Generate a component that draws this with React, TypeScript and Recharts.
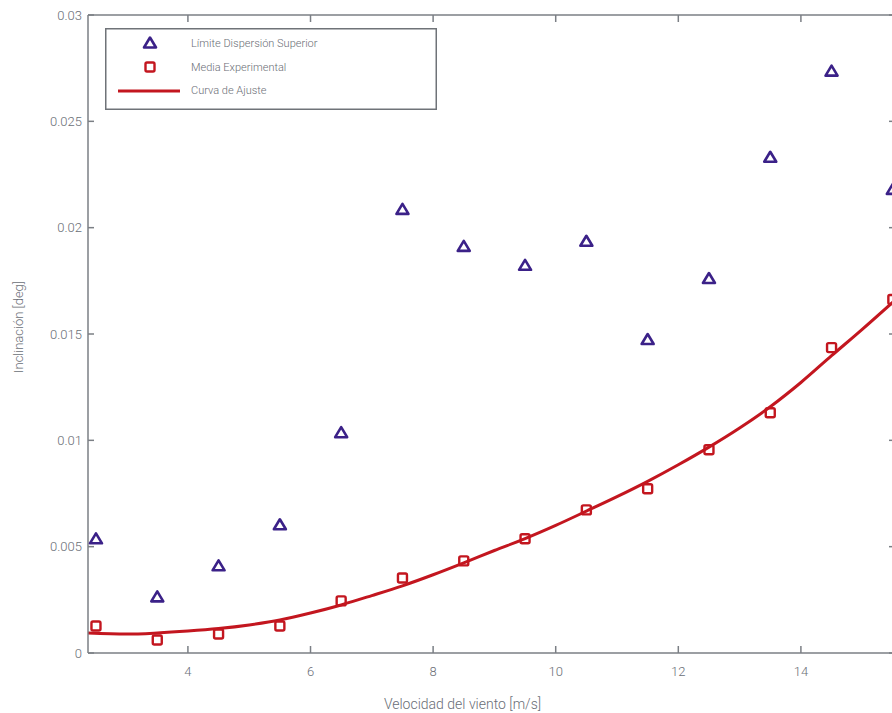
import React from "react";
import { ComposedChart, Scatter, Line, XAxis, YAxis } from "recharts";

// wind speed values where measurements were taken
const speeds = [2.5, 3.5, 4.5, 5.5, 6.5, 7.5, 8.5, 9.5, 10.5, 11.5, 12.5, 13.5, 14.5, 15.5];
const upperLimit = [
  0.00537, 0.00264, 0.0041, 0.00603, 0.01036, 0.02086, 0.01912, 0.01823, 0.01936, 0.01474,
  0.01761, 0.02331, 0.02736, 0.0218,
];
const expMean = [
  0.00127, 0.00061, 0.00089, 0.00127, 0.00245, 0.00353, 0.00433, 0.00537, 0.00673, 0.00772,
  0.00956, 0.0113, 0.01436, 0.01662,
];

// fitted curve
const fitSpeeds = [
  2.37, 3, 3.5, 4, 4.5, 5, 5.5, 6, 6.5, 7, 7.5, 8, 8.5, 9, 9.5, 10, 10.5, 11, 11.5, 12, 12.5, 13,
  13.5, 14, 14.5, 15, 15.5,
];
const fitValues = [
  0.00094, 0.00089, 0.00094, 0.00103, 0.00115, 0.00132, 0.00155, 0.00188, 0.00226, 0.0027,
  0.00316, 0.00368, 0.00424, 0.00482, 0.00538, 0.006, 0.00667, 0.00735, 0.00807, 0.00885,
  0.00968, 0.01058, 0.01158, 0.01272, 0.01398, 0.01522, 0.0165,
];

const xTicks = [4, 6, 8, 10, 12, 14];
const yTicks = [0, 0.005, 0.01, 0.015, 0.02, 0.025, 0.03];

const PURPLE = "#3b2188";
const RED = "#c3161f";
const AXIS = "#7b7f85";
const TEXT = "#6a6e76";
const FONT = "Roboto, 'Open Sans', sans-serif";

const upperData = speeds.map((x, i) => ({ x, y: upperLimit[i] }));
const meanData = speeds.map((x, i) => ({ x, y: expMean[i] }));
const fitData = fitSpeeds.map((x, i) => ({ x, y: fitValues[i] }));

function Triangle(props: any): React.JSX.Element {
  const { cx, cy } = props;
  return (
    <path
      d={`M${cx},${cy - 5.5} L${cx + 6},${cy + 4.5} L${cx - 6},${cy + 4.5} Z`}
      fill="none"
      stroke={PURPLE}
      strokeWidth={2.6}
      strokeLinejoin="round"
    />
  );
}

function Square(props: any): React.JSX.Element {
  const { cx, cy } = props;
  return (
    <rect
      x={cx - 4.5}
      y={cy - 4.5}
      width={9}
      height={9}
      rx={1.5}
      fill="none"
      stroke={RED}
      strokeWidth={2.4}
    />
  );
}

function BottomTick({ x, y, payload }: any): React.JSX.Element {
  return (
    <g>
      <line x1={x} x2={x} y1={y} y2={y - 7} stroke={AXIS} strokeWidth={1.5} />
      <text x={x} y={y + 23} textAnchor="middle" fill={TEXT} fontSize={13} fontWeight={300} fontFamily={FONT}>
        {payload.value}
      </text>
    </g>
  );
}

function TopTick({ x, y }: any): React.JSX.Element {
  return <line x1={x} x2={x} y1={y} y2={y + 7} stroke={AXIS} strokeWidth={1.5} />;
}

function LeftTick({ x, y, payload }: any): React.JSX.Element {
  return (
    <g>
      <line x1={x} x2={x + 6} y1={y} y2={y} stroke={AXIS} strokeWidth={1.5} />
      <text x={x - 6} y={y + 4.5} textAnchor="end" fill={TEXT} fontSize={13} fontWeight={300} fontFamily={FONT}>
        {payload.value}
      </text>
    </g>
  );
}

function RightTick({ x, y }: any): React.JSX.Element {
  return <line x1={x} x2={x - 6} y1={y} y2={y} stroke={AXIS} strokeWidth={1.5} />;
}

function XTitle({ viewBox }: any): React.JSX.Element {
  const { x, y, width, height } = viewBox;
  return (
    <text
      x={x + width / 2 - 29}
      y={y + height - 4}
      textAnchor="middle"
      fill={TEXT}
      fontSize={14}
      fontWeight={300}
      fontFamily={FONT}
    >
      Velocidad del viento [m/s]
    </text>
  );
}

function YTitle({ viewBox }: any): React.JSX.Element {
  const { y, height } = viewBox;
  const cy = y + height / 2 - 7;
  return (
    <text
      x={18}
      y={cy}
      transform={`rotate(-90, 18, ${cy})`}
      textAnchor="middle"
      dominantBaseline="central"
      fill={TEXT}
      fontSize={13}
      fontWeight={300}
      fontFamily={FONT}
    >
      Inclinación [deg]
    </text>
  );
}

function ChartLegend(): React.JSX.Element {
  const label = { fontSize: 11, fill: TEXT, fontFamily: FONT, fontWeight: 300 } as const;
  return (
    <svg width={332} height={82} style={{ display: "block" }}>
      <rect x={0.75} y={0.75} width={330.5} height={80.5} fill="#fff" stroke="#6f7378" strokeWidth={1.5} />
      <Triangle cx={45} cy={15} />
      <Square cx={45} cy={39} />
      <line x1={13} x2={75} y1={63} y2={63} stroke={RED} strokeWidth={3} />
      <text x={86} y={19} {...label}>Límite Dispersión Superior</text>
      <text x={86} y={43} {...label}>Media Experimental</text>
      <text x={86} y={66} {...label}>Curva de Ajuste</text>
    </svg>
  );
}

export default function App(): React.JSX.Element {
  return (
    <div style={{ width: 892, height: 713, overflow: "hidden", position: "relative", background: "#fff" }}>
      <style>{`body{margin:0}`}</style>
      <ComposedChart
        width={896}
        height={713}
        margin={{ top: 14, right: 0, bottom: 0, left: 0 }}
        style={{ fontFamily: FONT }}
      >
        <XAxis
          dataKey="x"
          type="number"
          domain={[2.37, 15.535]}
          ticks={xTicks}
          allowDataOverflow
          height={60}
          axisLine={{ stroke: AXIS, strokeWidth: 1.5 }}
          tickLine={false}
          tickSize={0}
          tickMargin={0}
          tick={<BottomTick />}
          label={<XTitle />}
        />
        <XAxis
          xAxisId="top"
          dataKey="x"
          orientation="top"
          type="number"
          domain={[2.37, 15.535]}
          ticks={xTicks}
          allowDataOverflow
          height={1}
          axisLine={{ stroke: AXIS, strokeWidth: 1.5 }}
          tickLine={false}
          tickSize={0}
          tickMargin={0}
          tick={<TopTick />}
        />
        <YAxis
          type="number"
          dataKey="y"
          domain={[0, 0.03]}
          ticks={yTicks}
          allowDataOverflow
          width={88}
          axisLine={{ stroke: AXIS, strokeWidth: 1.5 }}
          tickLine={false}
          tickSize={0}
          tickMargin={0}
          tick={<LeftTick />}
          label={<YTitle />}
        />
        <YAxis
          yAxisId="right"
          dataKey="y"
          orientation="right"
          type="number"
          domain={[0, 0.03]}
          ticks={yTicks}
          allowDataOverflow
          width={1}
          axisLine={{ stroke: AXIS, strokeWidth: 1.5 }}
          tickLine={false}
          tickSize={0}
          tickMargin={0}
          tick={<RightTick />}
        />
        <Line
          data={fitData}
          dataKey="y"
          xAxisId="top"
          yAxisId="right"
          type="monotone"
          stroke={RED}
          strokeWidth={3}
          dot={false}
          activeDot={false}
          isAnimationActive={false}
        />
        <Scatter data={meanData} dataKey="y" shape={<Square />} isAnimationActive={false} />
        <Scatter data={upperData} dataKey="y" shape={<Triangle />} isAnimationActive={false} />
      </ComposedChart>
      <div style={{ position: "absolute", left: 105, top: 28 }}>
        <ChartLegend />
      </div>
    </div>
  );
}
